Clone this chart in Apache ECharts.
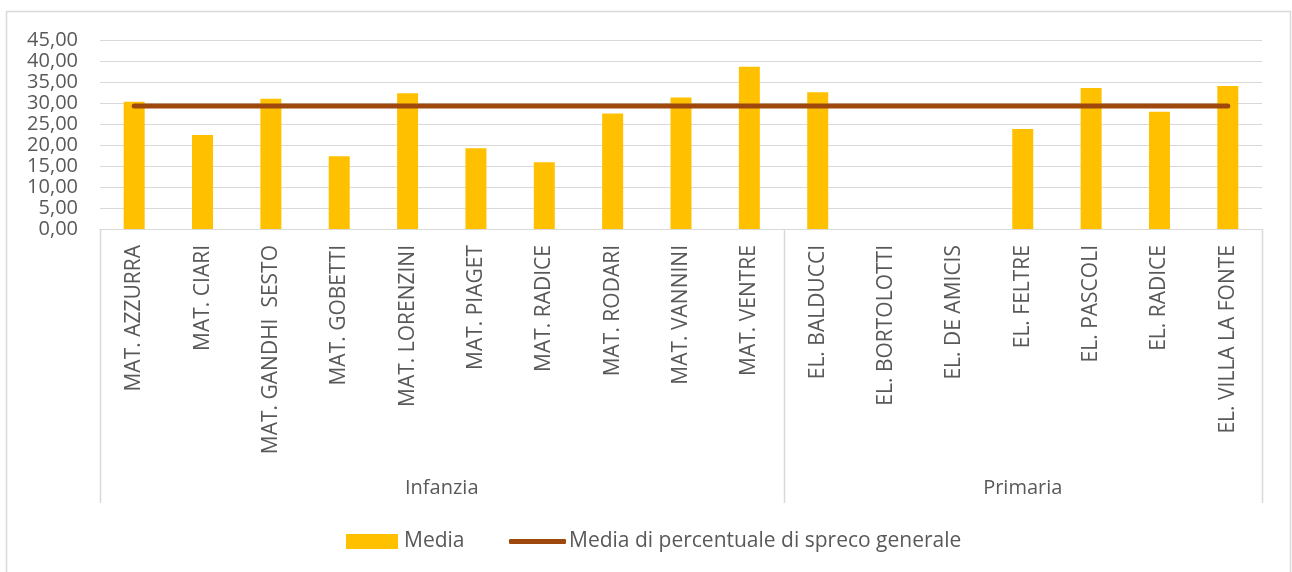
<!DOCTYPE html>
<html>
<head>
<meta charset="utf-8">
<script src="https://cdn.jsdelivr.net/npm/echarts@6/dist/echarts.min.js"></script>
<style>
  html, body { margin: 0; padding: 0; background: #fff; }
  #chart { width: 1292px; height: 572px; }
</style>
</head>
<body>
<div id="chart"></div>
<script>
// Plessi (scuole) per gruppo
const categories = [
  'MAT. AZZURRA', 'MAT. CIARI', 'MAT. GANDHI  SESTO', 'MAT. GOBETTI', 'MAT. LORENZINI',
  'MAT. PIAGET', 'MAT. RADICE', 'MAT. RODARI', 'MAT. VANNINI', 'MAT. VENTRE',
  'EL. BALDUCCI', 'EL. BORTOLOTTI', 'EL. DE AMICIS', 'EL. FELTRE', 'EL. PASCOLI',
  'EL. RADICE', 'EL. VILLA LA FONTE'
];
// Gruppi: nome e numero di plessi
const groupNames = ['Infanzia', 'Primaria'];
const groupSizes = [10, 7];

// Media per plesso (null = dato assente)
const media = [
  30.3, 22.4, 31.0, 17.3, 32.3,
  19.25, 15.9, 27.5, 31.3, 38.65,
  32.56, null, null, 23.8, 33.6,
  27.9, 34.06
];
// Media generale di percentuale di spreco
const mediaGenerale = [
  29.3, 29.3, 29.3, 29.3, 29.3,
  29.3, 29.3, 29.3, 29.3, 29.3,
  29.3, 29.3, 29.3, 29.3, 29.3,
  29.3, 29.3
];
const yTicks = { min: 0, max: 45, interval: 5 };

const TEXT = '#595959';
const GRID_LINE = '#d9d9d9';
const FONT = '"Open Sans", "Noto Sans", sans-serif';

const chart = echarts.init(document.getElementById('chart'));

chart.setOption({
  animation: false,
  backgroundColor: '#fff',
  grid: { left: 100, right: 30, top: 40, bottom: 343, containLabel: false },
  legend: [
    {
      left: 341, top: 526,
      itemWidth: 52, itemHeight: 15, itemGap: 0,
      textStyle: { color: TEXT, fontSize: 21, fontFamily: FONT, padding: [0, 0, 0, 1] },
      data: [{ name: 'Media', icon: 'rect' }]
    },
    {
      left: 504, top: 526,
      itemWidth: 57, itemHeight: 5, itemGap: 0,
      textStyle: { color: TEXT, fontSize: 21, fontFamily: FONT, padding: [0, 0, 0, -2] },
      data: [{ name: 'Media di percentuale di spreco generale', icon: 'roundRect' }]
    }
  ],
  xAxis: {
    type: 'category',
    data: categories,
    boundaryGap: true,
    axisLine: { lineStyle: { color: GRID_LINE, width: 1 } },
    axisTick: { show: false },
    axisLabel: {
      rotate: 90,
      interval: 0,
      margin: 16,
      color: TEXT,
      fontSize: 21,
      fontFamily: FONT
    }
  },
  yAxis: {
    type: 'value',
    min: yTicks.min,
    max: yTicks.max,
    interval: yTicks.interval,
    axisLine: { show: false },
    axisTick: { show: false },
    splitLine: { lineStyle: { color: GRID_LINE, width: 1 } },
    axisLabel: {
      margin: 22,
      color: TEXT,
      fontSize: 20,
      fontFamily: FONT,
      formatter: v => v.toFixed(2).replace('.', ',')
    }
  },
  series: [
    {
      name: 'Media',
      type: 'bar',
      data: media,
      barWidth: 21,
      itemStyle: { color: '#FFC000' },
      z: 2
    },
    {
      name: 'Media di percentuale di spreco generale',
      type: 'line',
      data: mediaGenerale,
      symbol: 'none',
      lineStyle: { color: '#9E480E', width: 5, cap: 'round' },
      itemStyle: { color: '#9E480E' },
      z: 3
    }
  ]
});

// Group brackets below the category axis, placed from the axis scale
function drawGroups() {
  const yBase = chart.convertToPixel({ yAxisIndex: 0 }, 0);
  const first = chart.convertToPixel({ xAxisIndex: 0 }, 0);
  const second = chart.convertToPixel({ xAxisIndex: 0 }, 1);
  const step = second - first;
  const boundary = i => first - step / 2 + i * step;
  const yEnd = 503;
  const elements = [
    {
      type: 'rect',
      shape: { x: 6.5, y: 11.5, width: 1284, height: 620 },
      style: { fill: null, stroke: GRID_LINE, lineWidth: 1.5 },
      silent: true
    }
  ];
  let start = 0;
  const edges = [0];
  groupSizes.forEach((n, gi) => {
    const end = start + n;
    edges.push(end);
    elements.push({
      type: 'text',
      style: {
        text: groupNames[gi],
        x: (boundary(start) + boundary(end)) / 2,
        y: 488,
        align: 'center',
        verticalAlign: 'middle',
        fill: TEXT,
        font: '20px ' + FONT
      },
      silent: true
    });
    start = end;
  });
  edges.forEach(i => {
    const x = Math.round(boundary(i)) + 0.5;
    elements.push({
      type: 'line',
      shape: { x1: x, y1: yBase, x2: x, y2: yEnd },
      style: { stroke: GRID_LINE, lineWidth: 1.5 },
      silent: true
    });
  });
  chart.setOption({ graphic: elements });
}
drawGroups();
</script>
</body>
</html>
